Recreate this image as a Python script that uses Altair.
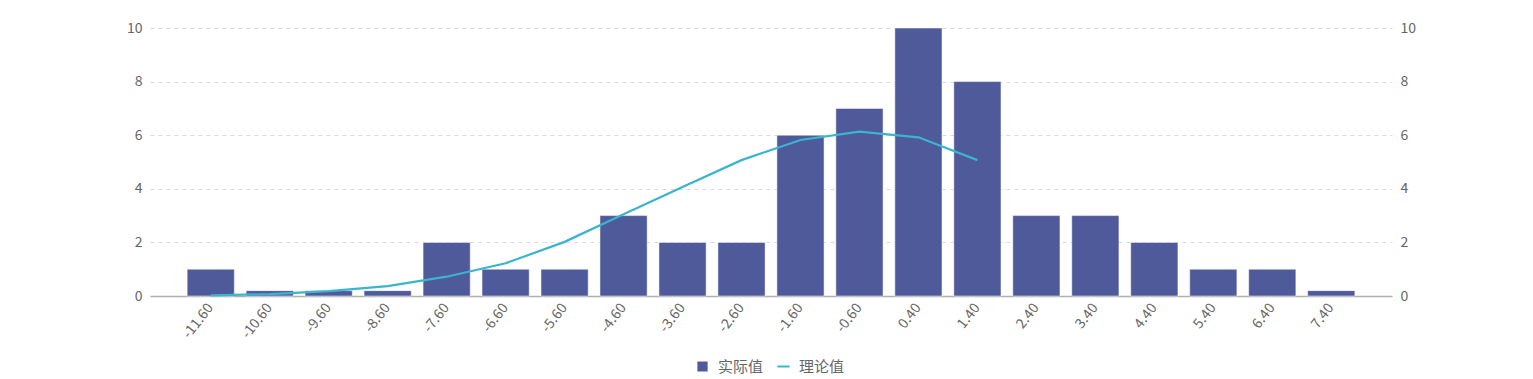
import altair as alt
import pandas as pd

categories = ["-11.60", "-10.60", "-9.60", "-8.60", "-7.60", "-6.60", "-5.60", "-4.60",
              "-3.60", "-2.60", "-1.60", "-0.60", "0.40", "1.40", "2.40", "3.40",
              "4.40", "5.40", "6.40", "7.40"]
actual_values = [1, 0.2, 0.2, 0.2, 2, 1, 1, 3, 2, 2, 6, 7, 10, 8, 3, 3, 2, 1, 1, 0.2]
theory_categories = categories[:14]
theory_values = [0.02, 0.07, 0.18, 0.37, 0.72, 1.22, 2.02, 3.05, 4.07, 5.07, 5.82, 6.13, 5.92, 5.07]
series_names = ["实际值", "理论值"]
y_ticks = [0, 2, 4, 6, 8, 10]

BAR_COLOR = "#4e5a99"
LINE_COLOR = "#3bb4cf"
FONT = "Noto Sans CJK SC"
TXT = "#666666"

bar_df = pd.DataFrame({"cat": categories, "value": actual_values, "series": series_names[0]})
line_df = pd.DataFrame({"cat": theory_categories, "value": theory_values, "series": series_names[1]})

x_enc = alt.X(
    "cat:N",
    scale=alt.Scale(domain=categories, paddingInner=0.2, paddingOuter=0.63),
    axis=alt.Axis(title=None, labelAngle=-52, labelFont=FONT, labelFontSize=14,
                  labelColor=TXT, ticks=False, domainColor="#b0b0b0", domainWidth=1.5,
                  labelPadding=9, grid=False),
)


def legend(x, sym):
    return alt.Legend(
        title=None, orient="none", direction="horizontal", legendX=x, legendY=331,
        labelFont=FONT, labelFontSize=15, labelColor=TXT, symbolSize=150,
        symbolType=sym, symbolStrokeWidth=2, labelOffset=8, symbolOpacity=1,
    )


bars = alt.Chart(bar_df).mark_bar(stroke="#ffffff", strokeOpacity=0.5, strokeWidth=1).encode(
    x=x_enc,
    y=alt.Y("value:Q", scale=alt.Scale(domain=[0, 10], nice=False),
            axis=alt.Axis(title=None, values=y_ticks, grid=True, gridDash=[4, 4],
                          gridColor="#d9d9d9", domain=False, ticks=False, labelPadding=8,
                          labelFont=FONT, labelFontSize=14, labelColor=TXT)),
    color=alt.Color("series:N", scale=alt.Scale(domain=[series_names[0]], range=[BAR_COLOR]),
                    legend=legend(545, "square")),
)

line = alt.Chart(line_df).mark_line(strokeWidth=2.2).encode(
    x=x_enc,
    y=alt.Y("value:Q", scale=alt.Scale(domain=[0, 10], nice=False),
            axis=alt.Axis(title=None, orient="right", values=y_ticks, grid=False,
                          domain=False, ticks=False, labelPadding=8,
                          labelFont=FONT, labelFontSize=14, labelColor=TXT)),
    color=alt.Color("series:N", scale=alt.Scale(domain=[series_names[1]], range=[LINE_COLOR]),
                    legend=legend(626, "stroke")),
)

chart = alt.layer(bars, line).resolve_scale(y="independent", color="independent").properties(
    width=1242, height=268,
    autosize=alt.AutoSizeParams(type="none"),
    padding={"left": 142, "top": 20, "right": 120, "bottom": 78},
).configure_view(stroke=None)

chart.save("out.html", embed_options={"renderer": "svg", "actions": False})
